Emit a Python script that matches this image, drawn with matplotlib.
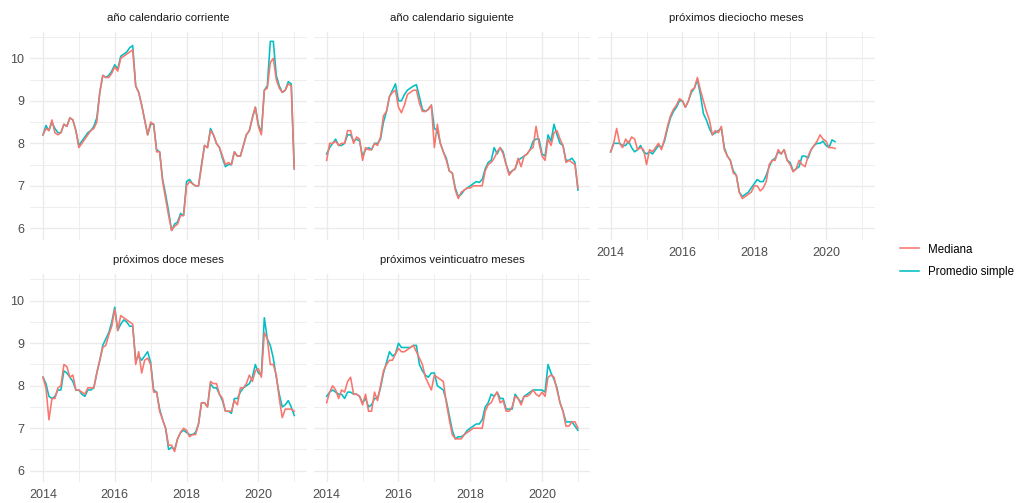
import numpy as np
import matplotlib
matplotlib.use("Agg")
import matplotlib.pyplot as plt

plt.rcParams['font.family'] = ['Liberation Sans', 'DejaVu Sans']

# monthly series, starting January 2014
corriente_mediana = [
    8.2, 8.35, 8.3, 8.55, 8.25, 8.2, 8.25, 8.45, 8.4, 8.6, 8.55, 8.3,
    7.9, 8.0, 8.1, 8.2, 8.3, 8.35, 8.5, 9.2, 9.6, 9.55, 9.55, 9.65,
    9.8, 9.7, 10.0, 10.05, 10.1, 10.15, 10.2, 9.35, 9.2, 8.9, 8.55, 8.2,
    8.5, 8.45, 7.8, 7.8, 7.1, 6.7, 6.3, 5.95, 6.05, 6.1, 6.3, 6.3,
    7.0, 7.1, 7.05, 7.0, 7.0, 7.45, 7.95, 7.9, 8.3, 8.2, 8.0, 7.9,
    7.7, 7.5, 7.55, 7.5, 7.8, 7.7, 7.7, 7.95, 8.2, 8.3, 8.6, 8.85,
    8.4, 8.2, 9.25, 9.3, 9.9, 10.0, 9.5, 9.3, 9.2, 9.25, 9.4, 9.35,
    7.4]
corriente_promedio = [
    8.2, 8.42, 8.3, 8.5, 8.35, 8.25, 8.25, 8.45, 8.4, 8.6, 8.55, 8.3,
    7.95, 8.05, 8.15, 8.25, 8.3, 8.4, 8.6, 9.2, 9.6, 9.55, 9.6, 9.7,
    9.85, 9.75, 10.05, 10.1, 10.15, 10.25, 10.3, 9.35, 9.2, 8.9, 8.55, 8.2,
    8.45, 8.45, 7.85, 7.8, 7.15, 6.8, 6.4, 5.95, 6.1, 6.15, 6.35, 6.3,
    7.1, 7.15, 7.05, 7.0, 7.0, 7.5, 7.95, 7.9, 8.35, 8.2, 8.0, 7.9,
    7.65, 7.45, 7.5, 7.5, 7.8, 7.7, 7.7, 7.95, 8.2, 8.3, 8.6, 8.85,
    8.45, 8.25, 9.25, 9.35, 10.4, 10.4, 9.6, 9.35, 9.2, 9.25, 9.45, 9.4,
    7.4]

siguiente_mediana = [
    7.6, 8.0, 8.0, 8.05, 7.95, 8.0, 8.0, 8.3, 8.3, 8.0, 8.15, 8.1,
    7.6, 7.9, 7.85, 7.85, 8.0, 7.95, 8.15, 8.65, 8.75, 9.1, 9.2, 9.25,
    8.85, 8.72, 8.9, 9.15, 9.2, 9.25, 9.25, 8.95, 8.75, 8.75, 8.8, 8.9,
    7.9, 8.45, 8.0, 7.8, 7.6, 7.35, 7.3, 6.9, 6.7, 6.85, 6.9, 6.95,
    6.95, 7.0, 7.0, 7.0, 7.0, 7.35, 7.5, 7.55, 7.65, 7.8, 7.9, 7.75,
    7.5, 7.25, 7.35, 7.4, 7.65, 7.45, 7.7, 7.75, 7.85, 7.9, 8.4, 8.0,
    7.7, 7.6, 8.1, 7.95, 8.25, 8.3, 8.1, 7.95, 7.55, 7.6, 7.55, 7.5,
    6.95]
siguiente_promedio = [
    7.75, 7.9, 8.0, 8.1, 7.95, 7.95, 8.0, 8.2, 8.2, 8.05, 8.1, 8.05,
    7.7, 7.85, 7.9, 7.85, 8.0, 8.0, 8.1, 8.5, 8.75, 9.1, 9.25, 9.4,
    9.0, 9.0, 9.15, 9.25, 9.3, 9.35, 9.38, 9.1, 8.8, 8.75, 8.8, 8.9,
    8.35, 8.3, 8.0, 7.8, 7.65, 7.35, 7.3, 6.95, 6.75, 6.8, 6.9, 6.95,
    7.0, 7.05, 7.1, 7.08, 7.15, 7.4, 7.55, 7.6, 7.9, 7.75, 7.9, 7.8,
    7.5, 7.3, 7.35, 7.4, 7.6, 7.65, 7.7, 7.75, 7.85, 8.05, 8.1, 8.1,
    7.75, 7.7, 8.2, 8.05, 8.45, 8.2, 8.0, 7.95, 7.6, 7.6, 7.65, 7.55,
    6.9]

dieciocho_mediana = [
    7.8, 8.0, 8.35, 8.0, 7.9, 8.1, 8.0, 8.15, 8.1, 7.85, 7.9, 7.85,
    7.5, 7.85, 7.8, 7.9, 8.0, 7.85, 8.1, 8.4, 8.65, 8.8, 8.9, 9.05,
    9.0, 8.85, 9.0, 9.25, 9.3, 9.55, 9.25, 9.0, 8.75, 8.55, 8.2, 8.3,
    8.25, 8.4, 7.85, 7.7, 7.6, 7.3, 7.25, 6.85, 6.7, 6.75, 6.8, 6.85,
    7.0, 7.0, 6.88, 6.95, 7.1, 7.5, 7.6, 7.6, 7.85, 7.75, 7.85, 7.6,
    7.5, 7.33, 7.4, 7.6, 7.5, 7.45, 7.7, 7.85, 7.95, 8.05, 8.2, 8.1,
    8.05, 7.9, 7.9, 7.88]
dieciocho_promedio = [
    7.8, 8.0, 8.0, 8.0, 7.95, 7.95, 8.05, 7.9, 7.8, 7.85, 7.95, 7.8,
    7.75, 7.8, 7.75, 7.85, 7.95, 7.9, 8.05, 8.35, 8.6, 8.75, 8.85, 9.0,
    9.0, 8.85, 9.0, 9.2, 9.3, 9.5, 9.15, 8.7, 8.55, 8.35, 8.2, 8.25,
    8.3, 8.35, 7.9, 7.7, 7.6, 7.35, 7.25, 6.85, 6.75, 6.8, 6.85, 6.95,
    7.05, 7.15, 7.1, 7.1, 7.25, 7.45, 7.6, 7.65, 7.8, 7.75, 7.85, 7.6,
    7.55, 7.35, 7.4, 7.45, 7.7, 7.7, 7.65, 7.85, 7.95, 8.0, 8.0, 8.05,
    7.95, 7.9, 8.08, 8.04]

doce_mediana = [
    8.2, 7.95, 7.2, 7.7, 7.7, 7.95, 8.0, 8.5, 8.45, 8.2, 8.25, 7.9,
    7.9, 7.85, 7.8, 7.95, 7.95, 7.95, 8.3, 8.6, 8.9, 8.95, 9.2, 9.4,
    9.8, 9.3, 9.65, 9.6, 9.55, 9.5, 9.45, 8.5, 8.8, 8.3, 8.6, 8.65,
    8.5, 7.85, 7.85, 7.4, 7.2, 7.0, 6.6, 6.6, 6.45, 6.75, 6.9, 7.0,
    6.95, 6.8, 6.85, 6.85, 7.1, 7.6, 7.6, 7.5, 8.1, 8.05, 8.05, 7.8,
    7.7, 7.4, 7.4, 7.4, 7.65, 7.55, 7.95, 7.95, 8.05, 8.25, 8.1, 8.35,
    8.4, 8.2, 9.25, 9.1, 8.5, 8.5, 8.25, 7.7, 7.25, 7.45, 7.45, 7.45,
    7.4]
doce_promedio = [
    8.2, 8.05, 7.75, 7.7, 7.75, 7.9, 7.9, 8.35, 8.3, 8.2, 8.1, 7.9,
    7.9, 7.8, 7.75, 7.9, 7.9, 7.95, 8.3, 8.6, 8.95, 9.1, 9.25, 9.5,
    9.85, 9.3, 9.45, 9.55, 9.5, 9.4, 9.4, 8.6, 8.7, 8.6, 8.7, 8.8,
    8.55, 7.9, 7.85, 7.45, 7.2, 7.0, 6.5, 6.55, 6.5, 6.75, 6.9, 6.95,
    6.9, 6.85, 6.85, 6.9, 7.1, 7.6, 7.6, 7.5, 8.05, 7.95, 7.95, 7.8,
    7.65, 7.4, 7.4, 7.35, 7.7, 7.7, 7.85, 7.95, 8.0, 8.05, 8.2, 8.5,
    8.3, 8.25, 9.6, 9.1, 8.95, 8.65, 8.2, 7.8, 7.5, 7.55, 7.65, 7.5,
    7.3]

veinticuatro_mediana = [
    7.6, 7.85, 8.0, 7.9, 7.7, 7.9, 7.85, 8.1, 8.2, 7.8, 7.8, 7.75,
    7.55, 7.8, 7.4, 7.4, 7.85, 7.65, 8.0, 8.35, 8.5, 8.6, 8.6, 8.75,
    8.88, 8.8, 8.8, 8.85, 8.9, 8.95, 8.8, 8.65, 8.5, 8.2, 8.05, 7.9,
    8.25, 8.2, 8.15, 8.1, 7.6, 7.2, 6.85, 6.75, 6.75, 6.75, 6.85, 6.9,
    6.95, 7.0, 7.0, 7.0, 7.0, 7.4, 7.55, 7.6, 7.75, 7.85, 7.6, 7.65,
    7.4, 7.4, 7.5, 7.75, 7.7, 7.55, 7.75, 7.75, 7.8, 7.9, 7.8, 7.75,
    7.85, 7.75, 8.2, 8.25, 8.2, 7.9, 7.6, 7.4, 7.05, 7.05, 7.15, 7.15,
    7.0]
veinticuatro_promedio = [
    7.75, 7.85, 7.9, 7.85, 7.8, 7.8, 7.7, 7.85, 7.85, 7.8, 7.8, 7.75,
    7.6, 7.7, 7.5, 7.55, 7.7, 7.7, 7.95, 8.3, 8.55, 8.8, 8.7, 8.75,
    9.0, 8.9, 8.9, 8.9, 8.9, 8.95, 8.95, 8.5, 8.35, 8.25, 8.2, 8.3,
    8.3, 8.0, 7.95, 7.9, 7.65, 7.3, 6.95, 6.75, 6.8, 6.8, 6.85, 6.95,
    7.0, 7.05, 7.1, 7.1, 7.2, 7.5, 7.6, 7.8, 7.75, 7.85, 7.7, 7.7,
    7.45, 7.45, 7.45, 7.8, 7.7, 7.6, 7.75, 7.8, 7.85, 7.9, 7.9, 7.9,
    7.9, 7.85, 8.5, 8.3, 8.15, 7.95, 7.6, 7.4, 7.15, 7.15, 7.15, 7.05,
    6.95]

titles = ["año calendario corriente", "año calendario siguiente",
          "próximos dieciocho meses", "próximos doce meses",
          "próximos veinticuatro meses"]
mediana = [corriente_mediana, siguiente_mediana, dieciocho_mediana,
           doce_mediana, veinticuatro_mediana]
promedio = [corriente_promedio, siguiente_promedio, dieciocho_promedio,
            doce_promedio, veinticuatro_promedio]
series_names = ["Mediana", "Promedio simple"]

RED = "#F8766D"
TEAL = "#00BFC4"
GRID = "#EBEBEB"

W, H = 1026, 503
fig = plt.figure(figsize=(W / 100, H / 100), dpi=100)

col_left = [30.4, 314.1, 598.1]
row_bottom = [239.8, 482.2]
pw, ph = 276.4, 207.8
# (row, col) of each facet
cells = [(0, 0), (0, 1), (0, 2), (1, 0), (1, 1)]

handles = None
for i, (r, c) in enumerate(cells):
    ax = fig.add_axes([col_left[c] / W, (H - row_bottom[r]) / H, pw / W, ph / H])
    n = len(mediana[i])
    x = 2014 + np.arange(n) / 12.0
    l2, = ax.plot(x, promedio[i], color=TEAL, lw=1.15, zorder=3)
    l1, = ax.plot(x, mediana[i], color=RED, lw=1.15, zorder=4)
    if handles is None:
        handles = [l1, l2]

    ax.set_xlim(2013.65, 2021.35)
    ax.set_ylim(5.73, 10.62)
    ax.set_xticks([2014, 2016, 2018, 2020])
    ax.set_xticks([2015, 2017, 2019, 2021], minor=True)
    ax.set_yticks([6, 7, 8, 9, 10])
    ax.set_yticks([6.5, 7.5, 8.5, 9.5, 10.5], minor=True)
    ax.grid(which="major", color=GRID, lw=1.0, zorder=0)
    ax.grid(which="minor", color=GRID, lw=0.6, zorder=0)
    ax.set_axisbelow(True)
    for s in ax.spines.values():
        s.set_visible(False)
    ax.tick_params(which="both", length=0, labelsize=9, labelcolor="#4D4D4D")
    ax.tick_params(axis="x", pad=5)
    ax.tick_params(axis="y", pad=4.5)

    # only outer facets carry tick labels
    if c != 0:
        ax.set_yticklabels([])
    if (r, c) in [(0, 0), (0, 1)]:
        ax.set_xticklabels([])
    else:
        ax.set_xticklabels(["2014", "2016", "2018", "2020"])

    ax.set_title(titles[i], fontsize=8.2, color="#1A1A1A", pad=8)

fig.legend(handles, series_names, loc="center left",
           bbox_to_anchor=(900 / W, 1 - 261 / H), frameon=False,
           fontsize=8.3, handlelength=1.65, handletextpad=0.75,
           labelspacing=0.95, borderpad=0, borderaxespad=0)

fig.savefig("out.png", dpi=100)
